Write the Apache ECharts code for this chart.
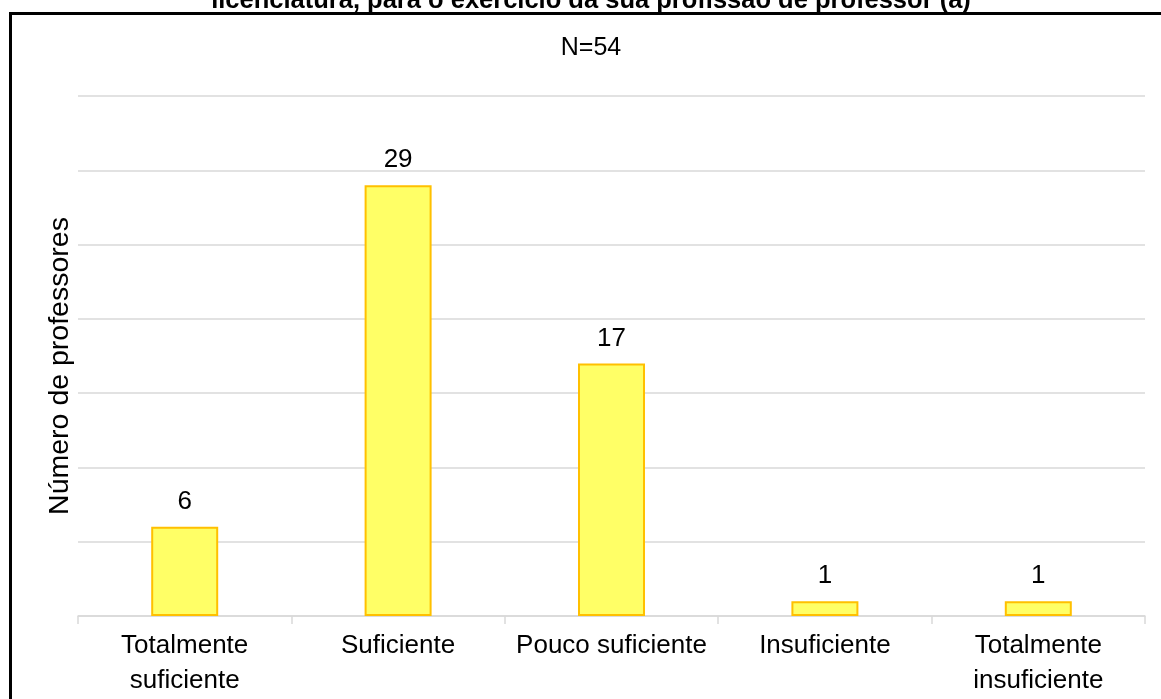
<!DOCTYPE html>
<html>
<head>
<meta charset="utf-8">
<script src="https://cdn.jsdelivr.net/npm/echarts@6/dist/echarts.min.js"></script>
<style>
html,body{margin:0;padding:0;background:#fff;}
#chart{width:1161px;height:699px;}
</style>
</head>
<body>
<div id="chart"></div>
<script>
const categories = ['Totalmente\nsuficiente', 'Suficiente', 'Pouco suficiente', 'Insuficiente', 'Totalmente\ninsuficiente'];
const values = [6, 29, 17, 1, 1];
const titleText = 'licenciatura, para o exercício da sua profissão de professor (a)';
const subtitleText = 'N=54';
const yAxisName = 'Número de professores';

const font = '"Liberation Sans", Arial, Helvetica, sans-serif';
const chart = echarts.init(document.getElementById('chart'), null, {renderer: 'canvas'});
chart.setOption({
  animation: false,
  backgroundColor: '#ffffff',
  textStyle: {fontFamily: font, color: '#000'},
  grid: {left: 78, right: 16, top: 96, bottom: 83},
  xAxis: {
    type: 'category',
    data: categories,
    axisLine: {lineStyle: {color: '#d9d9d9', width: 1.5}},
    axisTick: {show: true, length: 8, lineStyle: {color: '#d9d9d9', width: 1.5}},
    axisLabel: {fontSize: 26, color: '#000', margin: 12, lineHeight: 35, fontFamily: font, interval: 0}
  },
  yAxis: {
    type: 'value',
    min: 0, max: 35, interval: 5,
    axisLabel: {show: false},
    axisLine: {show: false},
    axisTick: {show: false},
    splitLine: {lineStyle: {color: '#d9d9d9', width: 1.5}}
  },
  series: [{
    type: 'bar',
    data: values,
    barWidth: 67,
    itemStyle: {color: '#ffff66', borderColor: '#ffc000', borderWidth: 2},
    label: {show: true, position: 'top', distance: 12, fontSize: 26, color: '#000', fontFamily: font}
  }],
  graphic: [
    {type: 'text', style: {text: titleText, x: 591, y: 14, align: 'center', verticalAlign: 'bottom', font: 'bold 25.5px ' + font, fill: '#000'}, z: 1},
    {type: 'rect', shape: {x: 10.5, y: 13.5, width: 1200, height: 800}, style: {fill: null, stroke: '#000', lineWidth: 3}, z: 2, silent: true},
    {type: 'text', style: {text: subtitleText, x: 591, y: 48, align: 'center', verticalAlign: 'middle', font: '25px ' + font, fill: '#000'}, z: 3},
    {type: 'text', rotation: Math.PI / 2, x: 60, y: 366, style: {text: yAxisName, x: 0, y: 0, align: 'center', verticalAlign: 'middle', font: '28.5px ' + font, fill: '#000'}, z: 3}
  ]
});
</script>
</body>
</html>
